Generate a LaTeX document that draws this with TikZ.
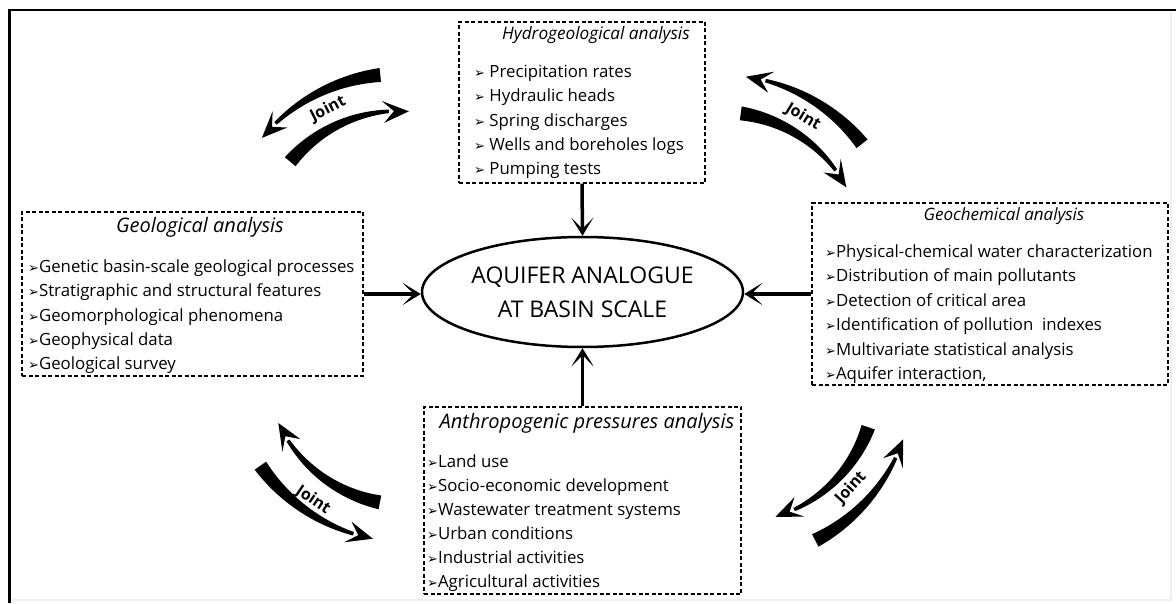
\documentclass[tikz,border=0pt]{standalone}
\usepackage{fontspec}
\setmainfont{Open Sans}
\newfontfamily\symfont{DejaVu Sans}
\usetikzlibrary{shapes.geometric,arrows.meta}

\newcommand{\bul}{{\symfont\fontsize{13}{13}\selectfont ➢}}
% tapering curved arrow on a circle: radius, angle of thick end, angle of tip
\newcommand{\jointarc}[3]{%
  \pgfmathsetmacro{\js}{sign(#3-(#2))}%
  \pgfmathsetmacro{\jae}{#3-\js*20/#1*180/pi}%
  \pgfmathsetmacro{\jab}{#3-\js*26/#1*180/pi}%
  \pgfmathsetmacro{\jan}{#3-\js*15/#1*180/pi}%
  \fill plot[domain=#2:\jae, samples=30, smooth] ({(#1+(14-10.5*(\x-(#2))/(\jae-(#2)))/2)*cos(\x)}, {(#1+(14-10.5*(\x-(#2))/(\jae-(#2)))/2)*sin(\x)})
    -- plot[domain=\jae:#2, samples=30, smooth] ({(#1-(14-10.5*(\x-(#2))/(\jae-(#2)))/2)*cos(\x)}, {(#1-(14-10.5*(\x-(#2))/(\jae-(#2)))/2)*sin(\x)}) -- cycle;
  \fill ({#3}:{#1}) -- ({\jab}:{#1+11}) -- ({\jan}:{#1}) -- ({\jab}:{#1-11}) -- cycle;
}

\tikzset{
  box/.style={draw, rectangle, dash pattern=on 4pt off 2.5pt, line width=1.4pt, inner sep=0pt},
  boxtitle/.style={inner sep=0pt, font=\fontsize{20}{24}\selectfont\itshape},
  item/.style={anchor=west, inner sep=0pt, text height=13pt, text depth=4pt, font=\fontsize{16.8}{20}\selectfont},
  feed/.style={line width=3.5pt, -{Stealth[length=18pt,width=22pt,inset=11pt]}},
  jointtext/.style={inner sep=0pt, font=\fontsize{16}{20}\selectfont\bfseries}
}

\begin{document}
\begin{tikzpicture}[x=1pt,y=1pt]
 \useasboundingbox (0,0) rectangle (1176,603);
 % frame
 \draw[gray!12, line width=2pt] (1171,593) -- (1171,3) -- (9.5,3);
 \draw[line width=2.5pt] (9.5,0) -- (9.5,593) -- (1176,593);

 % centre
 \node[draw, ellipse, line width=2.5pt, minimum width=321pt, minimum height=110pt, inner sep=0pt] (aq) at (582.5,311) {};
 \node[align=center, font=\fontsize{23}{34}\selectfont] (aqtext) at (aq.center) {AQUIFER ANALOGUE\\AT BASIN SCALE};

 % boxes
 \node[box, minimum width=246pt, minimum height=161pt] (hydro) at (582,500.5) {};
 \node[box, minimum width=341pt, minimum height=164pt] (geol) at (192.5,309) {};
 \node[box, minimum width=356pt, minimum height=182pt] (geoch) at (990,309) {};
 \node[box, minimum width=317pt, minimum height=187pt] (anthr) at (582.5,102.5) {};

 \node[boxtitle, font=\fontsize{17.2}{20}\selectfont\itshape] (hydro-t) at (596,568) {Hydrogeological analysis};
 \node[boxtitle] (geol-t) at (200,376) {Geological analysis};
 \node[boxtitle, font=\fontsize{17}{20}\selectfont\itshape] (geoch-t) at (1004,387) {Geochemical analysis};
 \node[boxtitle] (anthr-t) at (587,180) {Anthropogenic pressures analysis};

 \foreach \txt [count=\i] in {Precipitation rates, Hydraulic heads, Spring discharges, Wells and boreholes logs, Pumping tests}
   \node[item] (hydro-\i) at (474,554.3-24.3*\i) {\bul\ \txt};
 \foreach \txt [count=\i] in {Genetic basin-scale geological processes, Stratigraphic and structural features, Geomorphological phenomena, Geophysical data, Geological survey}
   \node[item] (geol-\i) at (28,359.3-24.3*\i) {\bul\txt};
 \foreach \txt [count=\i] in {Physical-chemical water characterization, Distribution of main pollutants, Detection of critical area, Identification of pollution\ \ indexes, Multivariate statistical analysis, {Aquifer interaction,}}
   \node[item] (geoch-\i) at (825,374.4-24.4*\i) {\bul\txt};
 \foreach \txt [count=\i] in {Land use, Socio-economic development, Wastewater treatment systems, Urban conditions, Industrial activities, Agricultural activities}
   \node[item] (anthr-\i) at (427,164-24*\i) {\bul\txt};

 % feeds into the centre
 \draw[feed] (hydro.south) -- (aq.north);
 \draw[feed] (anthr.north) -- (aq.south);
 \draw[feed] (geol.east) -- (geol.east -| aq.west);
 \draw[feed] (geoch.west) -- (geoch.west -| aq.east);

 % joint arrows
 \begin{scope}[shift={(399,350)}, rotate=27]
   \jointarc{179}{69}{113}
   \jointarc{142}{113}{59}
 \end{scope}
 \begin{scope}[shift={(721,349)}, rotate=-31]
   \jointarc{179}{69}{113}
   \jointarc{142}{113}{59}
 \end{scope}
 \begin{scope}[shift={(407,240)}, rotate=146]
   \jointarc{179}{69}{113}
   \jointarc{142}{113}{59}
 \end{scope}
 \begin{scope}[shift={(734,222)}, rotate=228]
   \jointarc{179}{69}{113}
   \jointarc{142}{113}{59}
 \end{scope}
 \node[jointtext, rotate=27] (joint-tl) at (328,494) {Joint};
 \node[jointtext, rotate=-31] (joint-tr) at (803,486) {Joint};
 \node[jointtext, rotate=-34] (joint-bl) at (313,103) {Joint};
 \node[jointtext, rotate=48] (joint-br) at (851,115) {Joint};
\end{tikzpicture}
\end{document}
